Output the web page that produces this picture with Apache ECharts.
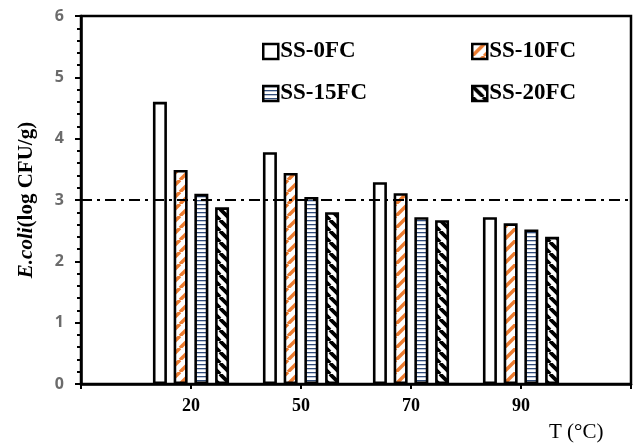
<!DOCTYPE html>
<html>
<head>
<meta charset="utf-8">
<script src="https://cdn.jsdelivr.net/npm/echarts@6/dist/echarts.min.js"></script>
<style>
html,body{margin:0;padding:0;background:#fff;}
#c{width:634px;height:446px;}
</style>
</head>
<body>
<div id="c"></div>
<script>
// Data (empty categories at both ends give the padding seen in the reference)
const categories = ['', '20', '50', '70', '90', ''];
const seriesNames = ['SS-0FC', 'SS-10FC', 'SS-15FC', 'SS-20FC'];
const ss0fc  = ['-', 4.60, 3.78, 3.29, 2.72, '-'];
const ss10fc = ['-', 3.49, 3.44, 3.11, 2.62, '-'];
const ss15fc = ['-', 3.10, 3.05, 2.72, 2.52, '-'];
const ss20fc = ['-', 2.88, 2.80, 2.67, 2.40, '-'];
const thresholdValue = 3;
const yTicks = { min: 0, max: 6, interval: 1 };

function stripePattern(color, period, width, dir) {
  const c = document.createElement('canvas');
  c.width = period; c.height = period;
  const ctx = c.getContext('2d');
  ctx.fillStyle = '#fff';
  ctx.fillRect(0, 0, period, period);
  ctx.strokeStyle = color;
  ctx.lineWidth = width;
  ctx.beginPath();
  for (let k = -1; k <= 1; k++) {
    if (dir === '/') {
      ctx.moveTo(k * period, period);
      ctx.lineTo((k + 1) * period, 0);
    } else {
      ctx.moveTo(k * period, 0);
      ctx.lineTo((k + 1) * period, period);
    }
  }
  ctx.stroke();
  return { image: c, repeat: 'repeat' };
}
function hLinePattern(color, period, width) {
  const c = document.createElement('canvas');
  c.width = 8; c.height = period;
  const ctx = c.getContext('2d');
  ctx.fillStyle = '#fff';
  ctx.fillRect(0, 0, 8, period);
  ctx.fillStyle = color;
  ctx.fillRect(0, 0, 8, width);
  return { image: c, repeat: 'repeat' };
}

const fills = [
  '#ffffff',
  stripePattern('#ED7D31', 12, 3.5, '/'),
  hLinePattern('#2F4B7A', 4, 1.3),
  stripePattern('#000000', 11, 3.8, '\\')
];
const values = [ss0fc, ss10fc, ss15fc, ss20fc];

const serif = '"Liberation Serif", "Times New Roman", serif';

const series = seriesNames.map((name, i) => ({
  name: name,
  type: 'bar',
  data: values[i],
  barWidth: 14,
  barGap: '48%',
  itemStyle: { color: fills[i], borderColor: '#000', borderWidth: 2.6 },
  emphasis: { disabled: true },
  markLine: i === 0 ? {
    silent: true,
    symbol: 'none',
    label: { show: false },
    lineStyle: { color: '#000', width: 2, type: [11, 5, 3, 5] },
    data: [{ yAxis: thresholdValue }],
    z: 10
  } : undefined
}));

const legendCommon = {
  orient: 'vertical',
  icon: 'rect',
  itemWidth: 15,
  itemHeight: 15,
  itemGap: 19,
  selectedMode: false,
  itemStyle: { borderColor: '#000', borderWidth: 2.5 },
  textStyle: { fontFamily: serif, fontWeight: 'bold', fontSize: 23, color: '#000', padding: [0, 0, 0, -3] }
};

const option = {
  animation: false,
  backgroundColor: '#fff',
  grid: { left: 81, right: 3, top: 16, bottom: 62, show: true, borderColor: '#000', borderWidth: 2.5, backgroundColor: 'transparent' },
  legend: [
    Object.assign({}, legendCommon, { data: [seriesNames[0], seriesNames[2]], left: 257, top: 35 }),
    Object.assign({}, legendCommon, { data: [seriesNames[1], seriesNames[3]], left: 466, top: 35 })
  ],
  xAxis: {
    type: 'category',
    data: categories,
    boundaryGap: false,
    axisLine: { lineStyle: { color: '#000', width: 2.5 } },
    axisTick: { show: true, length: 5, lineStyle: { color: '#000', width: 2 }, interval: 0 },
    axisLabel: { interval: 0, margin: 13, fontFamily: serif, fontWeight: 'bold', fontSize: 18, color: '#000' },
    splitLine: { show: false }
  },
  yAxis: {
    type: 'value',
    min: yTicks.min, max: yTicks.max, interval: yTicks.interval,
    axisLine: { show: true, lineStyle: { color: '#000', width: 2.5 } },
    axisTick: { show: true, length: 6, lineStyle: { color: '#000', width: 2 } },
    minorTick: { show: true, splitNumber: 5, length: 4, lineStyle: { color: '#000', width: 2 } },
    splitLine: { show: false },
    axisLabel: { margin: 17, fontFamily: '"Open Sans", "Liberation Sans", Arial, sans-serif', fontWeight: 'bold', fontSize: 16, color: '#6b6b6b' },
    name: '{i|E.coli}{n|(log CFU/g)}',
    nameLocation: 'middle',
    nameGap: 44,
    nameTextStyle: {
      rich: {
        i: { fontFamily: serif, fontWeight: 'bold', fontStyle: 'italic', fontSize: 21, color: '#000' },
        n: { fontFamily: serif, fontWeight: 'bold', fontSize: 21, color: '#000' }
      }
    }
  },
  graphic: [{
    type: 'text',
    left: 549,
    top: 422,
    style: { text: 'T (°C)', font: '21px ' + serif, fill: '#000' }
  }],
  series: series
};

const chart = echarts.init(document.getElementById('c'));
chart.setOption(option);
</script>
</body>
</html>
